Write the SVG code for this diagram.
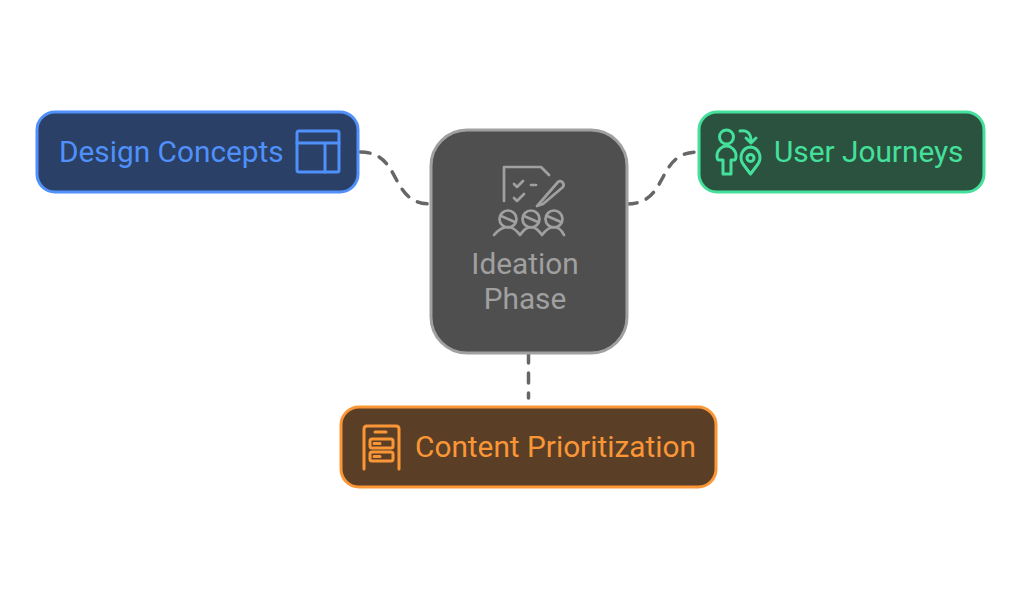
<svg xmlns="http://www.w3.org/2000/svg" width="1022" height="600" viewBox="0 0 1022 600">
<style>
text{font-family:Roboto,"Liberation Sans",sans-serif;font-size:29.8px}
.box{stroke-width:3}
.ic{fill:none;stroke-width:3;stroke-linecap:round;stroke-linejoin:round}
.conn{fill:none;stroke:#666;stroke-width:3.500;stroke-dasharray:10 10;stroke-linecap:round}
</style>
<rect width="1022" height="600" fill="#fff"/>
<g id="connectors">
<path class="conn" d="M360 152C403 152 388 204 431 204"/>
<path class="conn" d="M627 204C670 204 655 152 698 152"/>
<path class="conn" d="M528.500 353V398"/>
</g>
<g id="node-design">
<rect class="box" x="37" y="112" width="321" height="80" rx="18" fill="#2a4066" stroke="#4f90fb"/>
<text x="59" y="162" fill="#4f90fb">Design Concepts</text>
<g class="ic" stroke="#4f90fb"><rect x="297" y="131" width="42" height="41" rx="2"/><path d="M297 143H339M325 143V172"/></g>
</g>
<g id="node-journeys">
<rect class="box" x="699" y="112" width="285" height="80" rx="18" fill="#2a523f" stroke="#44e09c"/>
<text x="774" y="162" fill="#44e09c">User Journeys</text>
<g class="ic" stroke="#44e09c"><circle cx="726.500" cy="137" r="7"/><path d="M723 174V160H719C717 160 717 158 717 156C717 150 722 146 726.500 146C731 146 736 150 736 156C736 158 736 160 734 160H731V174Z"/><path d="M740 131C747 130 751 133 751 141M746 138L751 143L756 138"/><path d="M750.500 174L743 164C739 158 741 148 750.500 147C760 148 762 158 758 164Z"/><circle cx="750.500" cy="158" r="3.500"/></g>
</g>
<g id="node-content">
<rect class="box" x="341" y="407" width="375" height="80" rx="18" fill="#5a3f26" stroke="#fb9636"/>
<text x="415" y="457" fill="#fb9636">Content Prioritization</text>
<g class="ic" stroke="#fb9636"><path d="M364 469V429C364 427 365 426 367 426H396C398 426 399 427 399 429V469"/><path d="M375 432H386"/><rect x="370" y="439" width="23" height="9" rx="2"/><rect x="370" y="452" width="23" height="9" rx="2"/><path d="M374 443.500H380M374 456.500H380"/></g>
</g>
<g id="node-ideation">
<rect class="box" x="431" y="130" width="196" height="223" rx="36" fill="#4f4f4f" stroke="#a0a0a0"/>
<g class="ic" stroke="#a0a0a0" style="stroke-width:2.700">
<path d="M504 201V167H541L549 175"/>
<path d="M514 184L517 187L523 181M514 198L517 201L524 194M531 185H536"/>
<path d="M538 205L558 182C561 179 565 184 563 187L543 204L537 206Z"/>
<circle cx="508" cy="219" r="8.500"/><circle cx="531" cy="219" r="8.500"/><circle cx="554" cy="219" r="8.500"/>
<path d="M501 216L515 222M524 216L538 222M547 216L561 222"/>
<path d="M494 235C499 229 504 227 508 227C513 227 517 231 520 235C523 231 526 227 531 227C536 227 539 231 542 235C545 231 549 227 554 227C558 227 561 229 564 235"/>
</g>
<text x="525" y="274" fill="#a0a0a0" text-anchor="middle">Ideation</text>
<text x="525" y="309" fill="#a0a0a0" text-anchor="middle">Phase</text>
</g>
</svg>
